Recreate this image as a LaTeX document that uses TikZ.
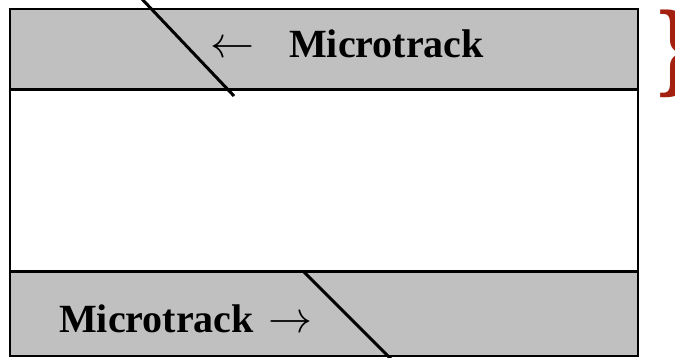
\documentclass[tikz,border=0pt]{standalone}
\usepackage{fontspec}
\setmainfont{Liberation Serif}
\definecolor{bandgray}{HTML}{C0C0C0}
\definecolor{bracered}{HTML}{A31F0F}
\begin{document}
\begin{tikzpicture}[x=1pt,y=-1pt,
  frame/.style={draw=black,line width=2.2pt},
  divider/.style={draw=black,line width=3pt},
  cut/.style={draw=black,line width=3pt},
  tracklabel/.style={font=\fontsize{40}{44}\selectfont\bfseries,inner sep=0pt,anchor=base west},
  arrowlabel/.style={inner sep=0pt,anchor=base west}]
\useasboundingbox (0,0) rectangle (675,358);
% gray micro-track bands and the outer frame
\fill[bandgray] (10,9) rectangle (638,90);
\fill[bandgray] (10,272) rectangle (638,356);
\draw[divider] (10,90) -- (638,90);
\draw[divider] (10,272) -- (638,272);
\draw[frame] (10,9) rectangle (638,356);
% slanted cuts across each band
\coordinate (ta) at (141,-2);
\coordinate (tb) at (234,96);
\draw[cut] (ta) -- (tb);
\coordinate (ba) at (304,272);
\coordinate (bb) at (394,362);
\draw[cut] (ba) -- (bb);
% labels
\node[arrowlabel] (tarrow) at (210,58) {\scalebox{4.4}{$\leftarrow$}};
\node[tracklabel] (ttext) at (289,58) {Microtrack};
\node[tracklabel] (btext) at (59,332) {Microtrack};
\node[arrowlabel] (barrow) at (268,332) {\scalebox{4.4}{$\rightarrow$}};
% brace marking the upper band
\node[inner sep=0pt,anchor=west,text=bracered,font=\fontsize{106}{106}\selectfont\bfseries] (brace) at (656,54) {\}};
\end{tikzpicture}
\end{document}
